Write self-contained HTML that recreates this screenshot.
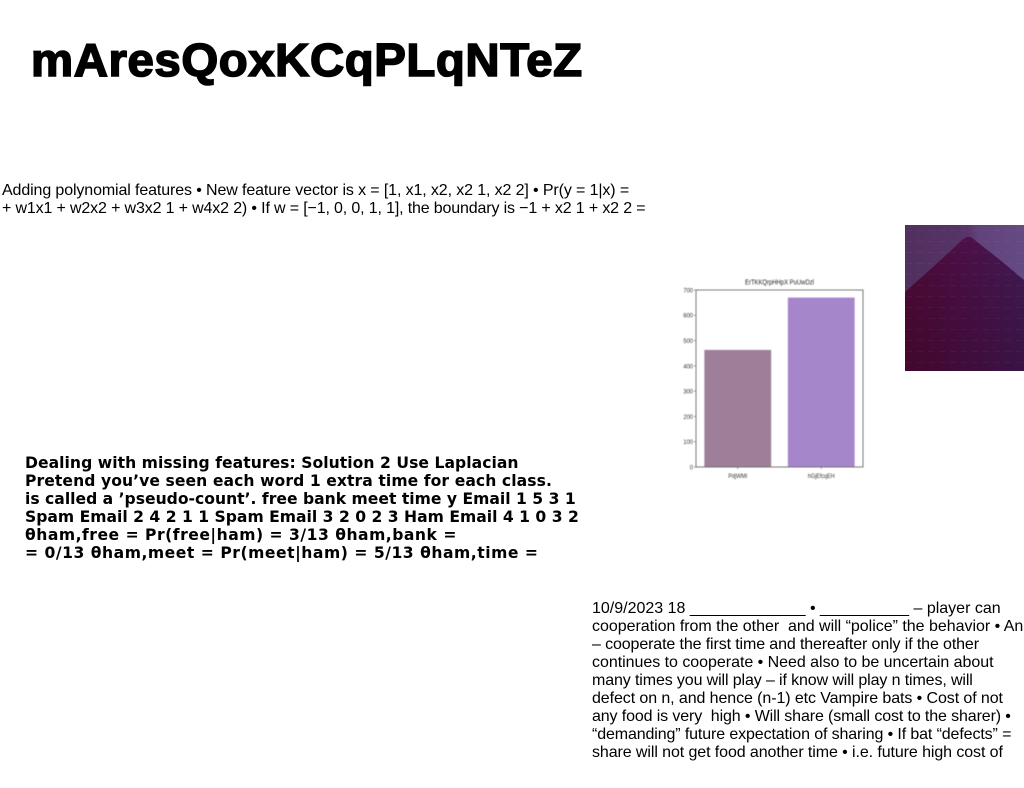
<!DOCTYPE html>
<html lang="en">
<head>
<meta charset="utf-8">
<title>mAresQoxKCqPLqNTeZ</title>
<style>
html,body{margin:0;padding:0;background:#fff;}
body{position:relative;width:1024px;height:788px;overflow:hidden;font-family:"Liberation Sans",sans-serif;color:#000;}
.abs{position:absolute;}
#title{left:31px;top:32px;font:700 46px/56px "Liberation Sans",sans-serif;-webkit-text-stroke:1.6px #000;letter-spacing:.55px;white-space:nowrap;transform:scaleX(1.03);transform-origin:0 0;}
.t1 div{font-size:16px;line-height:18px;height:18px;white-space:pre;letter-spacing:-.12px;}
#block-poly{left:2px;top:182px;}
#block-miss{left:25px;top:454px;}
#block-miss div{font:700 15.6px/18px "DejaVu Sans",sans-serif;height:18px;white-space:pre;}
#block-game{left:592px;top:600px;}
#chart{position:absolute;left:670px;top:270px;width:210px;height:215px;filter:blur(.4px);}
#photo{position:absolute;left:905px;top:225px;width:119px;height:146px;}
</style>
</head>
<body>
<div id="title" class="abs">mAresQoxKCqPLqNTeZ</div>

<div id="block-poly" class="abs t1">
<div>Adding polynomial features • New feature vector is x = [1, x1, x2, x2 1, x2 2] • Pr(y = 1|x) =</div>
<div style="letter-spacing:-.15px">+ w1x1 + w2x2 + w3x2 1 + w4x2 2) • If w = [−1, 0, 0, 1, 1], the boundary is −1 + x2 1 + x2 2 =</div>
</div>

<div id="block-miss" class="abs">
<div style="letter-spacing:.04px">Dealing with missing features: Solution 2 Use Laplacian</div>
<div style="letter-spacing:.07px">Pretend you’ve seen each word 1 extra time for each class.</div>
<div>is called a ’pseudo-count’. free bank meet time y Email 1 5 3 1</div>
<div>Spam Email 2 4 2 1 1 Spam Email 3 2 0 2 3 Ham Email 4 1 0 3 2</div>
<div style="letter-spacing:.5px">θham,free = Pr(free|ham) = 3/13 θham,bank =</div>
<div style="letter-spacing:.52px">= 0/13 θham,meet = Pr(meet|ham) = 5/13 θham,time =</div>
</div>

<div id="block-game" class="abs t1">
<div style="letter-spacing:0">10/9/2023 18 _____________ • __________ – player can</div>
<div style="letter-spacing:-.02px">cooperation from the other  and will “police” the behavior • An</div>
<div>– cooperate the first time and thereafter only if the other</div>
<div style="letter-spacing:-.03px">continues to cooperate • Need also to be uncertain about</div>
<div>many times you will play – if know will play n times, will</div>
<div style="letter-spacing:-.09px">defect on n, and hence (n-1) etc Vampire bats • Cost of not</div>
<div>any food is very  high • Will share (small cost to the sharer) •</div>
<div>“demanding” future expectation of sharing • If bat “defects” =</div>
<div style="letter-spacing:-.09px">share will not get food another time • i.e. future high cost of</div>
</div>

<svg id="chart" viewBox="0 0 210 215" xmlns="http://www.w3.org/2000/svg"></svg>

<svg id="photo" viewBox="0 0 119 146" xmlns="http://www.w3.org/2000/svg">
<defs>
<linearGradient id="sky" x1="0" y1="0" x2="1" y2="0">
<stop offset="0" stop-color="#50305f"/><stop offset=".52" stop-color="#583468"/><stop offset=".62" stop-color="#62437b"/><stop offset="1" stop-color="#654a83"/>
</linearGradient>
<linearGradient id="pyr" x1="0" y1="0" x2="1" y2="0">
<stop offset="0" stop-color="#4f0a36"/><stop offset=".5" stop-color="#4c1048"/><stop offset="1" stop-color="#431a55"/>
</linearGradient>
<linearGradient id="shade" x1="0" y1="0" x2="0" y2="1">
<stop offset="0" stop-color="#000" stop-opacity="0"/><stop offset="1" stop-color="#1a0010" stop-opacity=".25"/>
</linearGradient>
<pattern id="dashes" width="11" height="11" patternUnits="userSpaceOnUse">
<rect x="1" y="5" width="6" height="1" fill="#fff" opacity=".04"/>
</pattern>
</defs>
<rect width="119" height="146" fill="url(#sky)"/>
<path d="M0 67 L28 42 L52 20 Q60 11 65 12 Q68 13 71 16 L95 35 L119 55 V146 H0 Z" fill="url(#pyr)"/>
<path d="M0 67 L28 42 L52 20 Q60 11 65 12 Q68 13 71 16 L95 35 L119 55 V146 H0 Z" fill="url(#shade)"/>
<rect width="119" height="146" fill="url(#dashes)"/>
</svg>

<script>
const categories = ['PdjWMI', 'hGjEfcqEH'];
const seriesValues = [463, 670];
const tickLabels = [0, 100, 200, 300, 400, 500, 600, 700];
const chartTitle = 'ErTKKQrpHHpX PuUwDzl';
const barColors = ['#9d7f99', '#a686cb'];

const NS = 'http://www.w3.org/2000/svg';
const svg = document.getElementById('chart');
const plot = {left: 26, right: 193, top: 20, bottom: 197};
const yMax = 700;
function yScale(v) { return plot.bottom - (v / yMax) * (plot.bottom - plot.top); }
function xCenter(i) { return plot.left + (plot.right - plot.left) * (i + 0.5) / categories.length; }
const bandWidth = (plot.right - plot.left) / categories.length;
const barWidth = bandWidth * 0.8;

function make(tag, attrs) {
  const el = document.createElementNS(NS, tag);
  for (const k in attrs) el.setAttribute(k, attrs[k]);
  return el;
}

categories.forEach(function (c, i) {
  const bar = make('rect', {
    x: xCenter(i) - barWidth / 2,
    y: yScale(seriesValues[i]),
    width: barWidth,
    height: plot.bottom - yScale(seriesValues[i]),
    fill: barColors[i]
  });
  
  
  svg.appendChild(bar);

  const tick = make('line', {x1: xCenter(i), x2: xCenter(i), y1: plot.bottom, y2: plot.bottom + 2, stroke: '#555', 'stroke-width': 0.6});
  
  
  svg.appendChild(tick);

  const label = make('text', {transform: 'translate(' + xCenter(i) + ',' + (plot.bottom + 11) + ') scale(.8,1)', 'text-anchor': 'middle', 'font-size': 6.8, fill: '#333', 'font-family': 'Liberation Sans, sans-serif'});
  label.textContent = c;
  
  
  svg.appendChild(label);
});

tickLabels.forEach(function (t) {
  const tick = make('line', {x1: plot.left - 2, x2: plot.left, y1: yScale(t), y2: yScale(t), stroke: '#555', 'stroke-width': 0.6});
  
  
  svg.appendChild(tick);

  const label = make('text', {transform: 'translate(' + (plot.left - 3) + ',' + (yScale(t) + 2.4) + ') scale(.85,1)', 'text-anchor': 'end', 'font-size': 6.8, fill: '#333', 'font-family': 'Liberation Sans, sans-serif'});
  label.textContent = t;
  
  
  svg.appendChild(label);
});

const frame = make('rect', {x: plot.left, y: plot.top, width: plot.right - plot.left, height: plot.bottom - plot.top, fill: 'none', stroke: '#6a6a6a', 'stroke-width': 0.9});


svg.appendChild(frame);

const titleEl = make('text', {transform: 'translate(' + ((plot.left + plot.right) / 2) + ',' + (plot.top - 5.5) + ') scale(.8,1)', 'text-anchor': 'middle', 'font-size': 7.4, fill: '#222', 'font-family': 'Liberation Sans, sans-serif'});
titleEl.textContent = chartTitle;


svg.appendChild(titleEl);
</script>
</body>
</html>
